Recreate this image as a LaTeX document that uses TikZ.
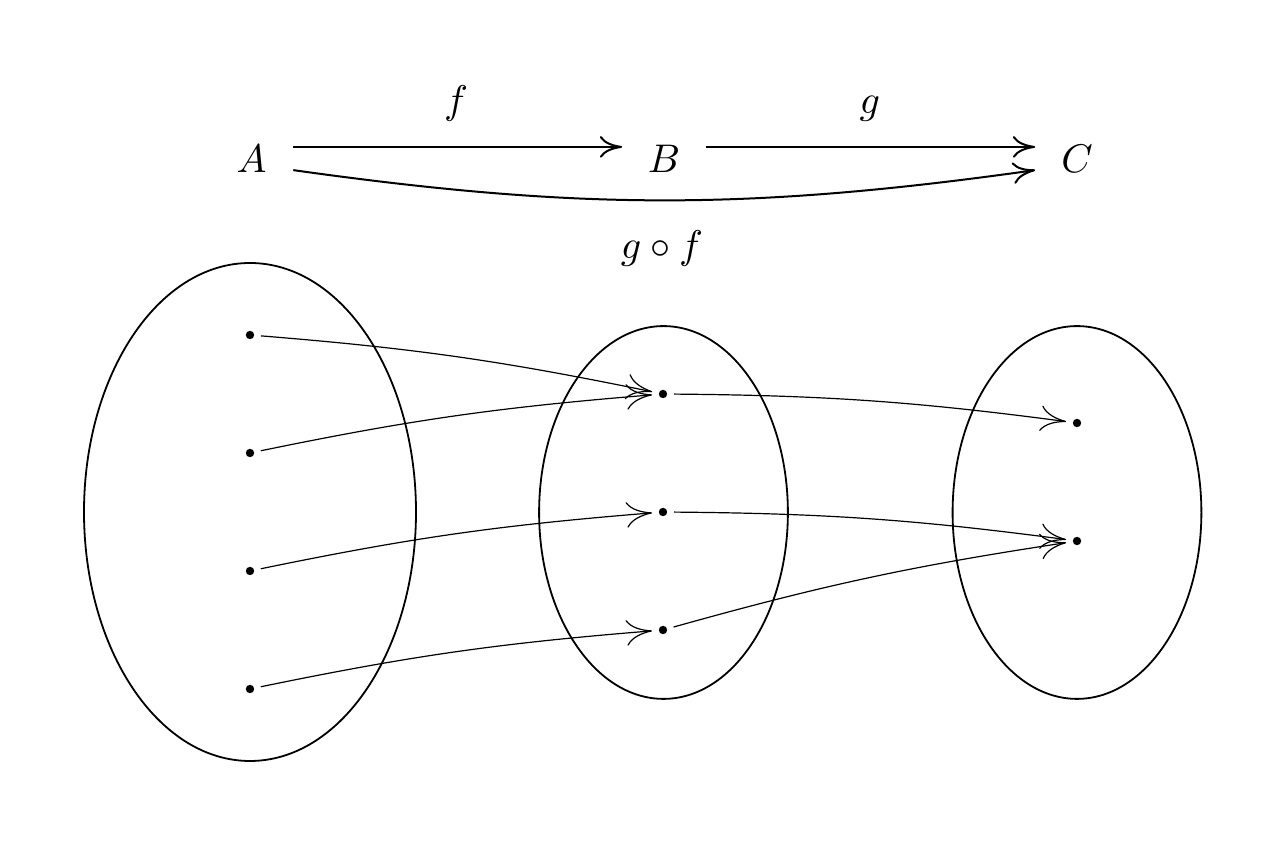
\documentclass[tikz,border=0pt]{standalone}
\usetikzlibrary{arrows.meta}
\begin{document}
\begin{tikzpicture}[x=0.25pt,y=0.25pt,
  obj/.style={inner sep=0pt, minimum width=20.5pt, font=\fontsize{10.3}{12}\selectfont, anchor=base},
  lbl/.style={inner sep=0pt, anchor=base, font=\fontsize{10.3}{12}\selectfont},
  pt/.style={circle, fill, inner sep=0pt, minimum size=2.1pt, outer sep=1.7pt},
  setline/.style={line width=0.45pt},
  main/.style={line width=0.5pt, -{Computer Modern Rightarrow[length=5.6pt,width=5.4pt]}},
  map/.style={line width=0.3pt, -{Computer Modern Rightarrow[length=6.4pt,width=6.4pt]}, bend left=3.5}]
\useasboundingbox (0,0) rectangle (1288,846);
% top row
\node[obj] (A) at (251.5,673) {$A$};
\node[obj] (B) at (664,673) {$B$};
\node[obj] (C) at (1077,673) {$C$};
\node[lbl] (f) at (456,732) {$f$};
\node[lbl] (g) at (870,732) {$g$};
\node[lbl] (gf) at (662,587) {$g\circ f$};
\draw[main] ([yshift=3.1pt]A.east) -- ([yshift=3.1pt]B.west);
\draw[main] ([yshift=3.1pt]B.east) -- ([yshift=3.1pt]C.west);
\draw[main] ([yshift=-2.7pt]A.east) to[bend right=8] ([yshift=-2.7pt]C.west);
% sets
\draw[setline] (250,334) ellipse [x radius=41.5pt, y radius=62.25pt];
\draw[setline] (663.5,333.5) ellipse [x radius=31.1pt, y radius=46.6pt];
\draw[setline] (1077,333.5) ellipse [x radius=31.1pt, y radius=46.6pt];
% points
\node[pt] (a1) at (250,511) {};
\node[pt] (a2) at (250,393) {};
\node[pt] (a3) at (250,275) {};
\node[pt] (a4) at (250,157) {};
\node[pt] (b1) at (663,452) {};
\node[pt] (b2) at (663,334) {};
\node[pt] (b3) at (663,216) {};
\node[pt] (c1) at (1077,423) {};
\node[pt] (c2) at (1077,305) {};
% maps
\draw[map] (a1) to (b1);
\draw[map] (a2) to (b1);
\draw[map] (a3) to (b2);
\draw[map] (a4) to (b3);
\draw[map] (b1) to (c1);
\draw[map] (b2) to (c2);
\draw[map] (b3) to (c2);
\end{tikzpicture}
\end{document}
